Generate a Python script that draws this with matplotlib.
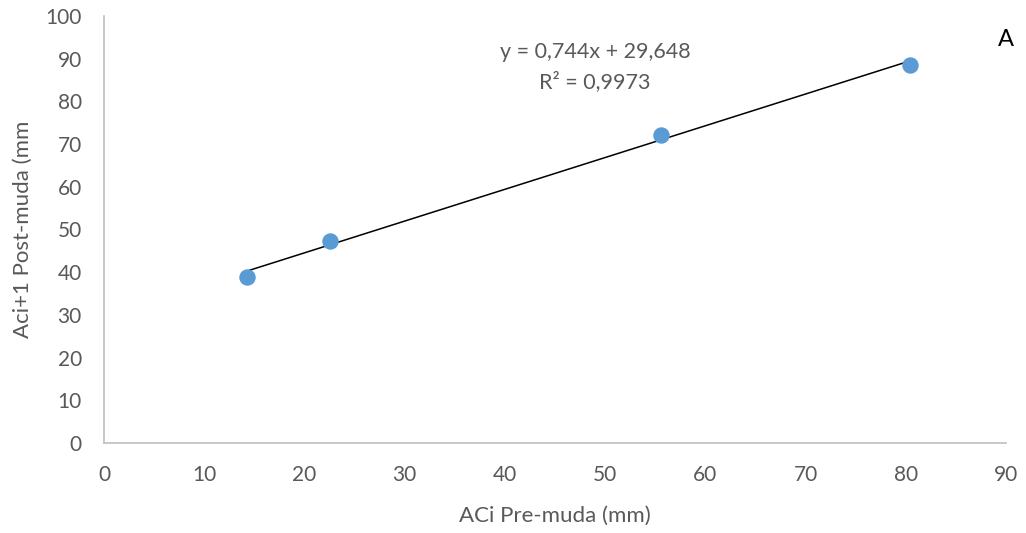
import matplotlib.pyplot as plt
import numpy as np

# datos
aci_pre = [14.3, 22.5, 55.6, 80.4]
aci_post = [38.9, 47.2, 72.1, 88.6]
slope = 0.744
intercept = 29.648
eq_text = "y = 0,744x + 29,648\nR² = 0,9973"

plt.rcParams['font.family'] = ['Lato', 'DejaVu Sans']
gray = '#595959'

fig = plt.figure(figsize=(10.26, 5.33), dpi=100)
ax = fig.add_axes([0.1014, 0.1689, 0.8791, 0.8011])

ax.scatter(aci_pre, aci_post, s=140, color='#5B9BD5', zorder=3, linewidths=0)
xf = np.array([min(aci_pre), max(aci_pre)])
ax.plot(xf, slope * xf + intercept, color='black', lw=1.1, zorder=2)

ax.set_xlim(0, 90)
ax.set_ylim(0, 100)
ax.set_xticks(range(0, 91, 10))
ax.set_yticks(range(0, 101, 10))
ax.tick_params(axis='x', length=0, labelsize=15, labelcolor=gray, pad=16)
ax.tick_params(axis='y', length=0, labelsize=15, labelcolor=gray, pad=16)
for s in ['top', 'right']:
    ax.spines[s].set_visible(False)
for s in ['left', 'bottom']:
    ax.spines[s].set_color('#bfbfbf')
    ax.spines[s].set_linewidth(1.2)

ax.set_xlabel('ACi Pre-muda (mm)', fontsize=16, color=gray, labelpad=15)
ax.set_ylabel('Aci+1 Post-muda (mm', fontsize=16, color=gray, labelpad=9)

ax.text(49.0, 88.0, eq_text, ha='center', va='center', fontsize=15.5,
        color=gray, linespacing=1.55)
ax.text(90, 94.5, 'A', ha='center', va='center', fontsize=17, color='black')

fig.savefig('out.png', dpi=100)
